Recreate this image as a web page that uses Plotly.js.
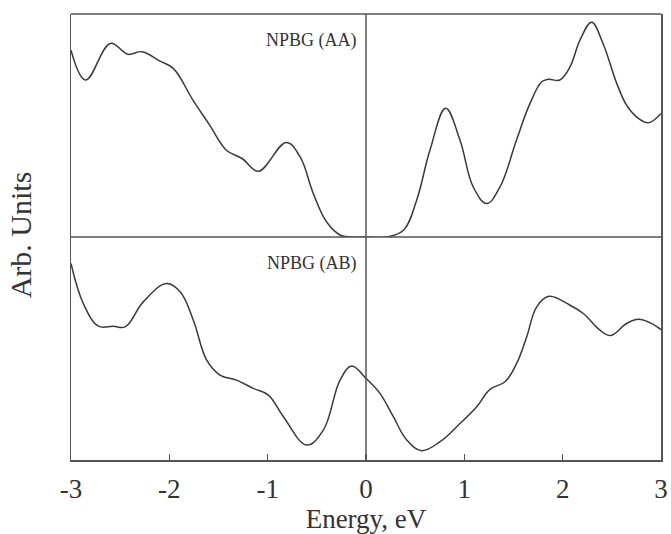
<!DOCTYPE html>
<html>
<head>
<meta charset="utf-8">
<script src="https://cdn.plot.ly/plotly-3.0.1.min.js"></script>
<style>html,body{margin:0;padding:0;background:#fff;}#chart{width:671px;height:534px;}</style>
</head>
<body>
<div id="chart"></div>
<script>
// Energy (eV) and density of states (arb. units, 0 = panel bottom, 100 = panel top)
const energyAA = [-3.0,-2.85,-2.60,-2.42,-2.28,-2.095,-1.96,-1.76,-1.59,-1.42,-1.26,-1.095,-0.81,-0.67,-0.536,-0.40,-0.26,-0.16,0.0,0.21,0.38,0.515,0.65,0.81,0.956,1.09,1.227,1.363,1.53,1.668,1.787,1.854,1.97,2.075,2.176,2.295,2.41,2.55,2.65,2.75,2.87,3.0];
const dosAA    = [83.8,70.4,86.8,81.9,83.1,78.9,75.6,61.4,50.2,38.9,35.2,29.5,42.4,35.9,19.5,6.7,0.8,0,0,0,3.0,16.5,38.9,57.7,43.4,22.5,15.0,22.5,43.4,59.9,69.6,70.7,70.4,76.3,88.3,96.3,86.8,68.9,59.1,53.9,51.2,55.4];

const energyAB = [-3.0,-2.875,-2.72,-2.57,-2.45,-2.265,-2.03,-1.89,-1.756,-1.62,-1.485,-1.315,-1.146,-0.993,-0.84,-0.603,-0.434,-0.264,-0.146,0.0,0.142,0.278,0.414,0.566,0.753,0.956,1.126,1.261,1.414,1.532,1.634,1.736,1.861,2.075,2.21,2.38,2.488,2.65,2.77,2.89,3.0];
const dosAB    = [88.1,70.2,60.0,60.0,59.7,70.9,79.1,75.4,62.7,44.8,38.1,35.8,32.1,29.1,19.4,6.7,13.4,35.8,42.1,36.6,29.9,19.4,9.0,4.2,8.2,16.4,23.9,31.7,35.1,43.3,55.2,68.7,73.4,69.4,65.7,58.2,55.8,61.2,63.1,61.5,58.5];

const tickVals = [-3,-2,-1,0,1,2,3];
const tickText = ['-3','-2','-1','0','1','2','3'];
const labelAA = 'NPBG (AA)';
const labelAB = 'NPBG (AB)';

const lineStyle = {color:'#3a3a3a', width:1.5, shape:'spline', smoothing:1.1};
const frame = '#555555';
const serif = 'Liberation Serif, DejaVu Serif, serif';

const traces = [
  {x: energyAB, y: dosAB, xaxis:'x', yaxis:'y', mode:'lines', line: lineStyle, hoverinfo:'skip'},
  {x: energyAA, y: dosAA, xaxis:'x', yaxis:'y2', mode:'lines', line: lineStyle, hoverinfo:'skip'}
];

const layout = {
  width: 671, height: 534,
  margin: {l:71, r:10, t:14, b:74},
  paper_bgcolor:'#fff', plot_bgcolor:'#fff',
  showlegend:false,
  font:{family: serif, color:'#333'},
  xaxis: {
    range:[-3,3], tickvals: tickVals, ticktext: tickText,
    ticks:'inside', ticklen:6, tickcolor:frame, tickwidth:1.2,
    showline:true, linecolor:frame, linewidth:1.5, mirror:false,
    showgrid:false, zeroline:false,
    tickfont:{family: serif, size:27, color:'#333'},
    ticklabelstandoff:4,
    title:{text:'Energy, eV', font:{family: serif, size:27, color:'#333'}, standoff:0},
    anchor:'y'
  },
  yaxis: {
    domain:[0,0.5], range:[0,100], showticklabels:false, ticks:'',
    showline:true, linecolor:frame, linewidth:1.5, mirror:true,
    showgrid:false, zeroline:false, anchor:'x'
  },
  yaxis2: {
    domain:[0.5,1], range:[0,100], showticklabels:false, ticks:'',
    showline:true, linecolor:frame, linewidth:1.5, mirror:true,
    showgrid:false, zeroline:false, anchor:'x'
  },
  shapes: [
    {type:'line', xref:'x', yref:'paper', x0:0, x1:0, y0:0, y1:1, line:{color:frame, width:1.5}},
    {type:'line', xref:'paper', yref:'paper', x0:0, x1:1, y0:0.5, y1:0.5, line:{color:frame, width:1.5}},
    {type:'line', xref:'paper', yref:'paper', x0:0, x1:1, y0:1, y1:1, line:{color:frame, width:1.5}}
  ],
  annotations: [
    {text: labelAA, xref:'x', yref:'y2', x:-0.07, y:88, xanchor:'right', yanchor:'middle', showarrow:false, font:{family: serif, size:18, color:'#333'}},
    {text: labelAB, xref:'x', yref:'y', x:-0.07, y:88, xanchor:'right', yanchor:'middle', showarrow:false, font:{family: serif, size:18, color:'#333'}},
    {text:'Arb. Units', xref:'paper', yref:'paper', x:-0.0855, y:0.505, xanchor:'center', yanchor:'middle', textangle:-90, showarrow:false, font:{family: serif, size:30, color:'#333'}}
  ]
};

Plotly.newPlot('chart', traces, layout, {staticPlot:true, displayModeBar:false});
</script>
</body>
</html>
